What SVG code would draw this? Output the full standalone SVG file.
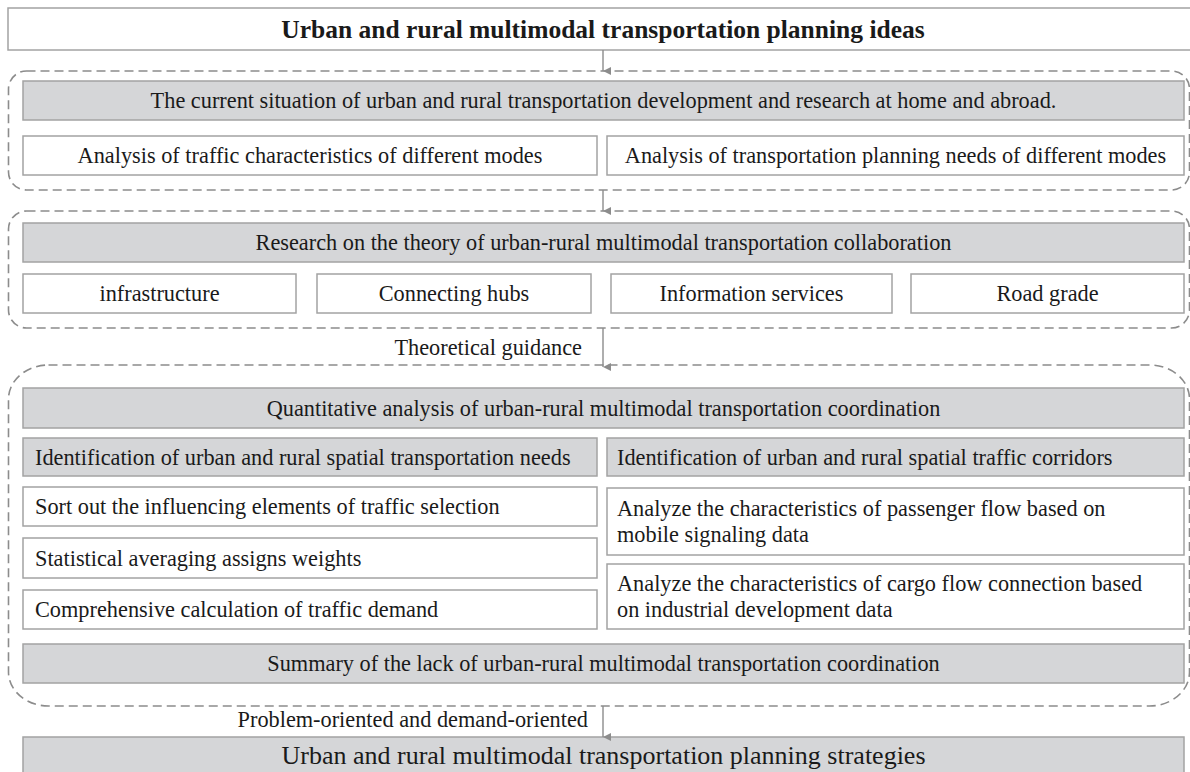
<svg xmlns="http://www.w3.org/2000/svg" width="1190" height="772" viewBox="0 0 1190 772">
<style>
text{font-family:"Liberation Serif","Times New Roman",serif;fill:#1a1a1a;font-size:22.3px}
.t{font-size:25.5px;font-weight:bold}
.b{font-size:26px}
.c{text-anchor:middle}
.w{fill:#fff;stroke:#a3a3a3;stroke-width:1.5}
.g{fill:#d5d6d8;stroke:#a3a3a3;stroke-width:1.5}
.d{fill:none;stroke:#8c8c8c;stroke-width:1.6;stroke-dasharray:9 5}
.a{stroke:#8c8c8c;stroke-width:1.4;fill:none}
</style>
<defs>
<marker id="ah" markerWidth="10" markerHeight="10" refX="5" refY="8" orient="auto-start-reverse" markerUnits="userSpaceOnUse" viewBox="0 0 10 10">
<path d="M1,0 L9,0 L5,8 Z" fill="#8c8c8c"/>
</marker>
</defs>
<rect width="1190" height="772" fill="#fff"/>

<g id="containers">
<rect id="group1" class="d" x="8.5" y="71" width="1181" height="119" rx="18" ry="18"/>
<rect id="group2" class="d" x="8.5" y="211" width="1181" height="117" rx="18" ry="18"/>
<rect id="group3" class="d" x="8.5" y="365" width="1181" height="341" rx="40" ry="34"/>
</g>

<g id="title"><rect class="w" x="8" y="8" width="1190" height="42"/><text class="t c" x="603" y="38">Urban and rural multimodal transportation planning ideas</text></g>

<g id="n-current"><rect class="g" x="23" y="81" width="1161" height="39"/><text class="c" x="603.5" y="108">The current situation of urban and rural transportation development and research at home and abroad.</text></g>
<g id="n-char"><rect class="w" x="23" y="136" width="574" height="39"/><text class="c" x="310" y="163">Analysis of traffic characteristics of different modes</text></g>
<g id="n-needs"><rect class="w" x="607" y="136" width="577" height="39"/><text class="c" x="895.5" y="163">Analysis of transportation planning needs of different modes</text></g>

<g id="n-theory"><rect class="g" x="23" y="223" width="1161" height="39"/><text class="c" x="603.5" y="250">Research on the theory of urban-rural multimodal transportation collaboration</text></g>
<g id="n-infra"><rect class="w" x="23" y="274" width="273" height="39"/><text class="c" x="159.5" y="301">infrastructure</text></g>
<g id="n-hubs"><rect class="w" x="317" y="274" width="274" height="39"/><text class="c" x="454" y="301">Connecting hubs</text></g>
<g id="n-info"><rect class="w" x="611" y="274" width="281" height="39"/><text class="c" x="751.5" y="301">Information services</text></g>
<g id="n-road"><rect class="w" x="911" y="274" width="273" height="39"/><text class="c" x="1047.5" y="301">Road grade</text></g>

<g id="n-quant"><rect class="g" x="23" y="388" width="1161" height="40"/><text class="c" x="603.5" y="416">Quantitative analysis of urban-rural multimodal transportation coordination</text></g>
<g id="n-idneeds"><rect class="g" x="23" y="438" width="574" height="38"/><text x="35" y="465">Identification of urban and rural spatial transportation needs</text></g>
<g id="n-idcorr"><rect class="g" x="607" y="438" width="577" height="38"/><text x="617" y="465">Identification of urban and rural spatial traffic corridors</text></g>
<g id="n-sort"><rect class="w" x="23" y="487" width="574" height="39"/><text x="35" y="514">Sort out the influencing elements of traffic selection</text></g>
<g id="n-stat"><rect class="w" x="23" y="538" width="574" height="40"/><text x="35" y="566">Statistical averaging assigns weights</text></g>
<g id="n-comp"><rect class="w" x="23" y="590" width="574" height="39"/><text x="35" y="617">Comprehensive calculation of traffic demand</text></g>
<g id="n-pass"><rect class="w" x="607" y="488" width="577" height="67"/><text x="617" y="516">Analyze the characteristics of passenger flow based on</text><text x="617" y="542">mobile signaling data</text></g>
<g id="n-cargo"><rect class="w" x="607" y="564" width="577" height="65"/><text x="617" y="591">Analyze the characteristics of cargo flow connection based</text><text x="617" y="617">on industrial development data</text></g>
<g id="n-summary"><rect class="g" x="23" y="644" width="1161" height="39"/><text class="c" x="603.5" y="671">Summary of the lack of urban-rural multimodal transportation coordination</text></g>

<g id="n-strategies"><rect class="g" x="23" y="737" width="1161" height="40"/><text class="b c" x="603.5" y="764">Urban and rural multimodal transportation planning strategies</text></g>

<g id="connectors">
<line class="a" x1="603" y1="50" x2="603" y2="71" marker-end="url(#ah)"/>
<line class="a" x1="603" y1="190" x2="603" y2="211" marker-end="url(#ah)"/>
<line class="a" x1="603" y1="328" x2="603" y2="367" marker-end="url(#ah)"/>
<text x="582" y="355" text-anchor="end">Theoretical guidance</text>
<line class="a" x1="603" y1="706" x2="603" y2="737" marker-end="url(#ah)"/>
<text x="588" y="727" text-anchor="end">Problem-oriented and demand-oriented</text>
</g>
</svg>
